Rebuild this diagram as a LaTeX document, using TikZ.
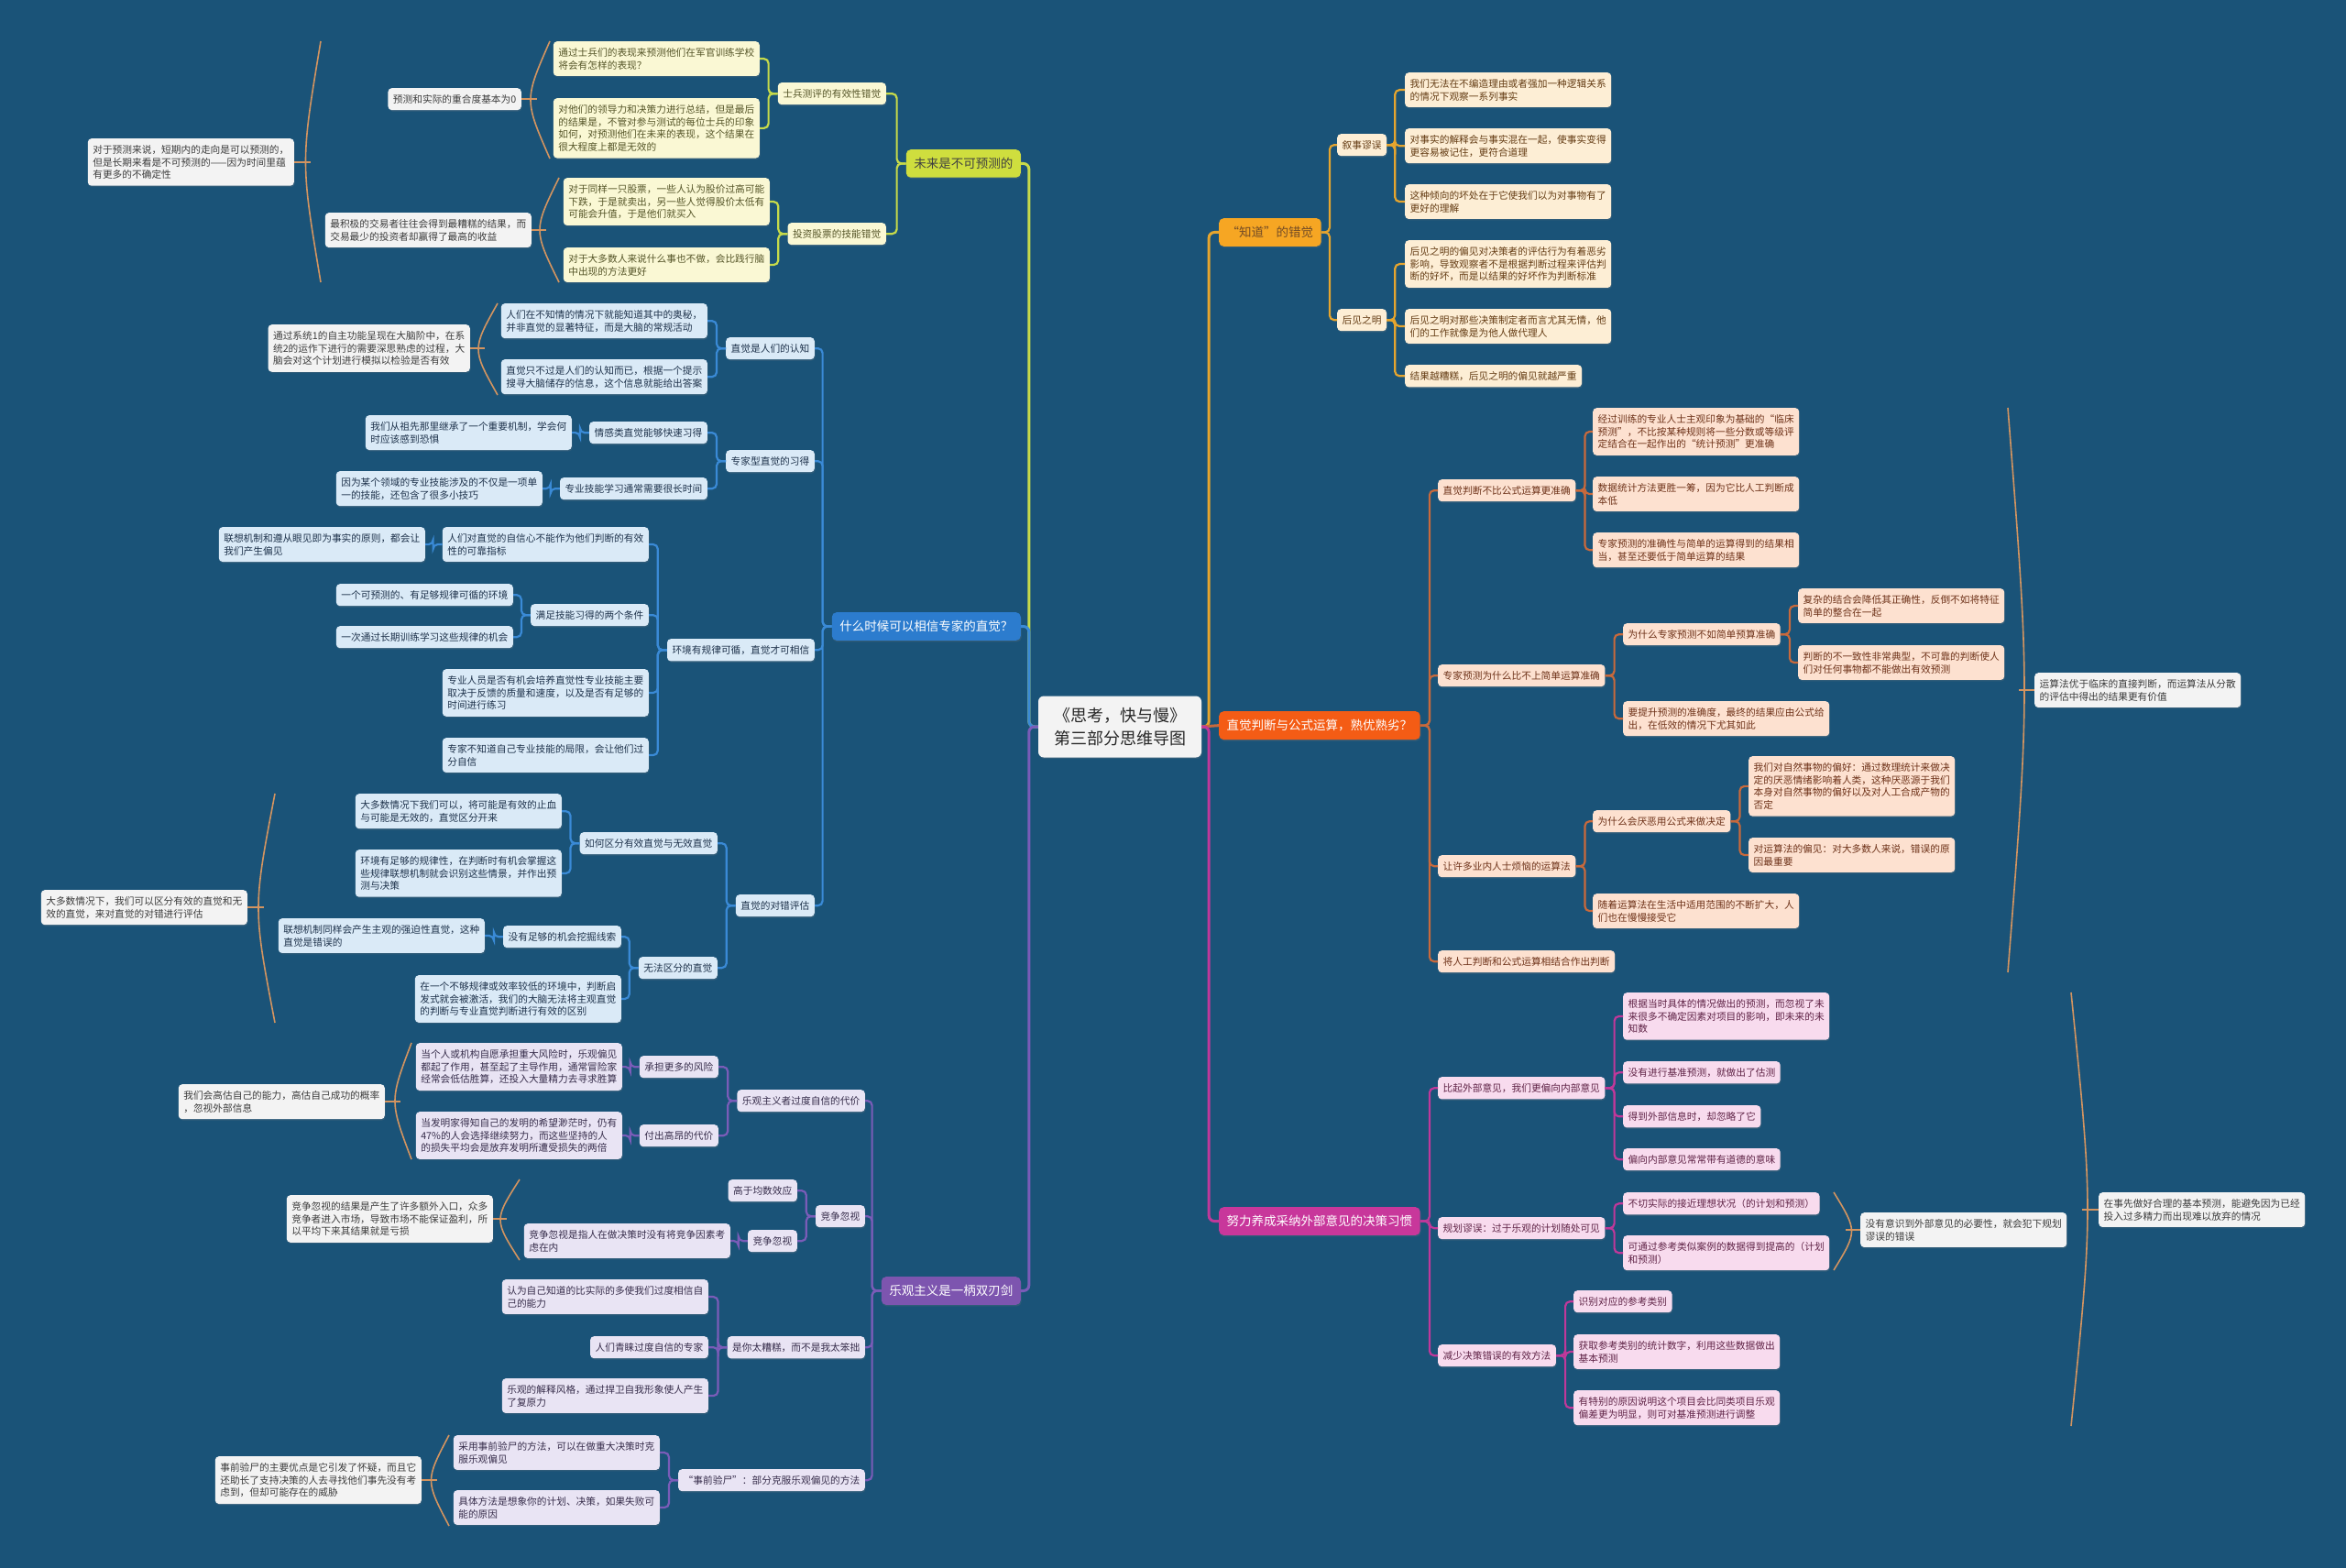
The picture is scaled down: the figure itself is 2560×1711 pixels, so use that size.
\documentclass[tikz,border=0pt]{standalone}
\usepackage{fontspec}
\setmainfont{Noto Sans CJK SC}
\usetikzlibrary{shadows}
\definecolor{bg}{RGB}{26,83,120}
\definecolor{memofill}{RGB}{243,243,243}
\definecolor{memotxt}{RGB}{60,60,60}
\definecolor{brkcol}{RGB}{211,148,96}
% yellow-green branch
\definecolor{lineY}{RGB}{198,218,74}
\definecolor{mainYf}{RGB}{207,222,62}
\definecolor{fillY}{RGB}{250,248,212}
\definecolor{txtY}{RGB}{85,85,40}
% blue branch
\definecolor{lineB}{RGB}{58,138,214}
\definecolor{mainBf}{RGB}{44,124,206}
\definecolor{fillB}{RGB}{218,234,247}
\definecolor{txtB}{RGB}{30,50,75}
% purple branch
\definecolor{lineP}{RGB}{122,92,184}
\definecolor{mainPf}{RGB}{125,85,175}
\definecolor{fillP}{RGB}{233,228,244}
\definecolor{txtP}{RGB}{55,45,75}
% orange branch
\definecolor{lineO}{RGB}{230,165,46}
\definecolor{mainOf}{RGB}{246,166,35}
\definecolor{fillO}{RGB}{253,238,213}
\definecolor{txtO}{RGB}{100,60,20}
% red branch
\definecolor{lineR}{RGB}{200,105,60}
\definecolor{mainRf}{RGB}{244,92,21}
\definecolor{fillR}{RGB}{253,225,208}
\definecolor{txtR}{RGB}{110,50,25}
% magenta branch
\definecolor{lineM}{RGB}{192,56,154}
\definecolor{mainMf}{RGB}{200,55,155}
\definecolor{fillM}{RGB}{248,219,238}
\definecolor{txtM}{RGB}{95,35,70}

\tikzset{
  box/.style={rounded corners=4pt, align=left, inner xsep=5.5pt, inner ysep=7pt,
    font=\fontsize{10.7}{13.8}\selectfont,
    drop shadow={opacity=0.22, shadow xshift=0.8pt, shadow yshift=-1.4pt}},
  bigbox/.style={rounded corners=5pt, align=left, inner xsep=8.5pt, inner ysep=9pt,
    font=\fontsize{13.5}{17}\selectfont,
    drop shadow={opacity=0.22, shadow xshift=0.8pt, shadow yshift=-1.6pt}},
  ctr/.style={rounded corners=6pt, align=center, fill=memofill, text=black!85,
    minimum width=178pt, minimum height=67pt, font=\fontsize{18}{25}\selectfont,
    drop shadow={opacity=0.22, shadow xshift=0.8pt, shadow yshift=-1.6pt}},
  lfY/.style={box, fill=fillY, text=txtY, anchor=north east},
  lfB/.style={box, fill=fillB, text=txtB, anchor=north east},
  lfP/.style={box, fill=fillP, text=txtP, anchor=north east},
  lfO/.style={box, fill=fillO, text=txtO, anchor=north west},
  lfR/.style={box, fill=fillR, text=txtR, anchor=north west},
  lfM/.style={box, fill=fillM, text=txtM, anchor=north west},
  memoL/.style={box, fill=memofill, text=memotxt, anchor=north east},
  memoR/.style={box, fill=memofill, text=memotxt, anchor=north west},
  mainY/.style={bigbox, fill=mainYf, text=black!75, anchor=north east},
  mainB/.style={bigbox, fill=mainBf, text=white, anchor=north east},
  mainP/.style={bigbox, fill=mainPf, text=white, anchor=north east},
  mainO/.style={bigbox, fill=mainOf, text=brown!60!black, anchor=north west},
  mainR/.style={bigbox, fill=mainRf, text=white, anchor=north west},
  mainM/.style={bigbox, fill=mainMf, text=white, anchor=north west},
  trunk/.style={line width=3pt, rounded corners=6pt},
  twig/.style={line width=2.2pt, rounded corners=5pt},
  brk/.style={brkcol, line width=1.6pt}
}
% brackets: name, x of ends, top y, bottom y, bulge
\newcommand{\brL}[5]{%
  \draw[brk] (#2,#3) .. controls ({#2-2*#5},{(#3+#4)/2}) .. (#2,#4);
  \coordinate (#1) at ({#2-#5},{(#3+#4)/2});}
\newcommand{\brR}[5]{%
  \draw[brk] (#2,#3) .. controls ({#2+2*#5},{(#3+#4)/2}) .. (#2,#4);
  \coordinate (#1) at ({#2+#5},{(#3+#4)/2});}

\begin{document}
\begin{tikzpicture}[x=1pt,y=-1pt]
\fill[bg] (0,0) rectangle (2560,1711);
\useasboundingbox (0,0) rectangle (2560,1711);

% centre
\node[ctr] (c) at (1222,793) {《思考，快与慢》\\第三部分思维导图};

% ---- left: 未来是不可预测的
\node[mainY] (ym) at (1114,163) {未来是不可预测的};
\node[lfY] (ys1) at (967,90) {士兵测评的有效性错觉};
\node[lfY] (ys2) at (967,243) {投资股票的技能错觉};
\node[lfY] (y1) at (829,45) {通过士兵们的表现来预测他们在军官训练学校\\将会有怎样的表现？};
\node[lfY] (y2) at (829,107) {对他们的领导力和决策力进行总结，但是最后\\的结果是，不管对参与测试的每位士兵的印象\\如何，对预测他们在未来的表现，这个结果在\\很大程度上都是无效的};
\node[lfY] (y3) at (840,194) {对于同样一只股票，一些人认为股价过高可能\\下跌，于是就卖出，另一些人觉得股价太低有\\可能会升值，于是他们就买入};
\node[lfY] (y4) at (840,270) {对于大多数人来说什么事也不做，会比践行脑\\中出现的方法更好};
\node[memoL] (n1) at (321,151) {对于预测来说，短期内的走向是可以预测的，\\但是长期来看是不可预测的——因为时间里蕴\\有更多的不确定性};
\node[memoL] (n2) at (569,96) {预测和实际的重合度基本为0};
\node[memoL] (n3) at (580,232) {最积极的交易者往往会得到最糟糕的结果，而\\交易最少的投资者却赢得了最高的收益};

% ---- left: 什么时候可以相信专家的直觉？
\node[mainB] (bm) at (1114,668) {什么时候可以相信专家的直觉？};
\node[lfB] (bs1) at (889,368) {直觉是人们的认知};
\node[lfB] (bs2) at (889,491) {专家型直觉的习得};
\node[lfB] (bs3) at (889,697) {环境有规律可循，直觉才可相信};
\node[lfB] (bs4) at (889,976) {直觉的对错评估};
\node[lfB] (b11) at (772,331) {人们在不知情的情况下就能知道其中的奥秘，\\并非直觉的显著特征，而是大脑的常规活动};
\node[lfB] (b12) at (772,392) {直觉只不过是人们的认知而已，根据一个提示\\搜寻大脑储存的信息，这个信息就能给出答案};
\node[memoL] (n4) at (513,354) {通过系统1的自主功能呈现在大脑阶中，在系\\统2的运作下进行的需要深思熟虑的过程，大\\脑会对这个计划进行模拟以检验是否有效};
\node[lfB] (b21) at (772,460) {情感类直觉能够快速习得};
\node[lfB] (b211) at (624,453) {我们从祖先那里继承了一个重要机制，学会何\\时应该感到恐惧};
\node[lfB] (b22) at (772,521) {专业技能学习通常需要很长时间};
\node[lfB] (b221) at (592,514) {因为某个领域的专业技能涉及的不仅是一项单\\一的技能，还包含了很多小技巧};
\node[lfB] (b31) at (708,575) {人们对直觉的自信心不能作为他们判断的有效\\性的可靠指标};
\node[lfB] (b311) at (464,575) {联想机制和遵从眼见即为事实的原则，都会让\\我们产生偏见};
\node[lfB] (b32) at (708,659) {满足技能习得的两个条件};
\node[lfB] (b321) at (560,637) {一个可预测的、有足够规律可循的环境};
\node[lfB] (b322) at (560,683) {一次通过长期训练学习这些规律的机会};
\node[lfB] (b33) at (708,730) {专业人员是否有机会培养直觉性专业技能主要\\取决于反馈的质量和速度，以及是否有足够的\\时间进行练习};
\node[lfB] (b34) at (708,805) {专家不知道自己专业技能的局限，会让他们过\\分自信};
\node[lfB] (b41) at (783,908) {如何区分有效直觉与无效直觉};
\node[lfB] (b411) at (613,866) {大多数情况下我们可以，将可能是有效的止血\\与可能是无效的，直觉区分开来};
\node[lfB] (b412) at (613,927) {环境有足够的规律性，在判断时有机会掌握这\\些规律联想机制就会识别这些情景，并作出预\\测与决策};
\node[lfB] (b42) at (783,1044) {无法区分的直觉};
\node[lfB] (b421) at (678,1010) {没有足够的机会挖掘线索};
\node[lfB] (b4211) at (529,1002) {联想机制同样会产生主观的强迫性直觉，这种\\直觉是错误的};
\node[lfB] (b422) at (678,1064) {在一个不够规律或效率较低的环境中，判断启\\发式就会被激活，我们的大脑无法将主观直觉\\的判断与专业直觉判断进行有效的区别};
\node[memoL] (n5) at (270,971) {大多数情况下，我们可以区分有效的直觉和无\\效的直觉，来对直觉的对错进行评估};

% ---- left: 乐观主义是一柄双刃剑
\node[mainP] (pm) at (1114,1393) {乐观主义是一柄双刃剑};
\node[lfP] (ps1) at (944,1189) {乐观主义者过度自信的代价};
\node[lfP] (ps2) at (944,1315) {竞争忽视};
\node[lfP] (ps3) at (944,1458) {是你太糟糕，而不是我太笨拙};
\node[lfP] (ps4) at (944,1603) {“事前验尸”：部分克服乐观偏见的方法};
\node[lfP] (p11) at (784,1152) {承担更多的风险};
\node[lfP] (p111) at (679,1138) {当个人或机构自愿承担重大风险时，乐观偏见\\都起了作用，甚至起了主导作用，通常冒险家\\经常会低估胜算，还投入大量精力去寻求胜算};
\node[lfP] (p12) at (784,1227) {付出高昂的代价};
\node[lfP] (p121) at (679,1213) {当发明家得知自己的发明的希望渺茫时，仍有\\47\%的人会选择继续努力，而这些坚持的人\\的损失平均会是放弃发明所遭受损失的两倍};
\node[memoL] (n6) at (420,1183) {我们会高估自己的能力，高估自己成功的概率\\，忽视外部信息};
\node[lfP] (p21) at (870,1287) {高于均数效应};
\node[lfP] (p22) at (870,1342) {竞争忽视};
\node[lfP] (p221) at (797,1335) {竞争忽视是指人在做决策时没有将竞争因素考\\虑在内};
\node[memoL] (n7) at (538,1304) {竞争忽视的结果是产生了许多额外入口，众多\\竞争者进入市场，导致市场不能保证盈利，所\\以平均下来其结果就是亏损};
\node[lfP] (p31) at (773,1396) {认为自己知道的比实际的多使我们过度相信自\\己的能力};
\node[lfP] (p32) at (773,1458) {人们青睐过度自信的专家};
\node[lfP] (p33) at (773,1504) {乐观的解释风格，通过捍卫自我形象使人产生\\了复原力};
\node[lfP] (p41) at (720,1566) {采用事前验尸的方法，可以在做重大决策时克\\服乐观偏见};
\node[lfP] (p42) at (720,1626) {具体方法是想象你的计划、决策，如果失败可\\能的原因};
\node[memoL] (n8) at (460,1589) {事前验尸的主要优点是它引发了怀疑，而且它\\还助长了支持决策的人去寻找他们事先没有考\\虑到，但却可能存在的威胁};

% ---- right: “知道”的错觉
\node[mainO] (om) at (1330,238) {“知道”的错觉};
\node[lfO] (os1) at (1459,146) {叙事谬误};
\node[lfO] (os2) at (1459,337) {后见之明};
\node[lfO] (o11) at (1533,79) {我们无法在不编造理由或者强加一种逻辑关系\\的情况下观察一系列事实};
\node[lfO] (o12) at (1533,140) {对事实的解释会与事实混在一起，使事实变得\\更容易被记住，更符合道理};
\node[lfO] (o13) at (1533,201) {这种倾向的坏处在于它使我们以为对事物有了\\更好的理解};
\node[lfO] (o21) at (1533,262) {后见之明的偏见对决策者的评估行为有着恶劣\\影响，导致观察者不是根据判断过程来评估判\\断的好坏，而是以结果的好坏作为判断标准};
\node[lfO] (o22) at (1533,337) {后见之明对那些决策制定者而言尤其无情，他\\们的工作就像是为他人做代理人};
\node[lfO] (o23) at (1533,398) {结果越糟糕，后见之明的偏见就越严重};

% ---- right: 直觉判断与公式运算
\node[mainR] (rm) at (1330,776) {直觉判断与公式运算，熟优熟劣？};
\node[lfR] (rs1) at (1569,523) {直觉判断不比公式运算更准确};
\node[lfR] (rs2) at (1569,725) {专家预测为什么比不上简单运算准确};
\node[lfR] (rs3) at (1569,933) {让许多业内人士烦恼的运算法};
\node[lfR] (rs4) at (1569,1037) {将人工判断和公式运算相结合作出判断};
\node[lfR] (r11) at (1738,445) {经过训练的专业人士主观印象为基础的“临床\\预测”，不比按某种规则将一些分数或等级评\\定结合在一起作出的“统计预测”更准确};
\node[lfR] (r12) at (1738,520) {数据统计方法更胜一筹，因为它比人工判断成\\本低};
\node[lfR] (r13) at (1738,581) {专家预测的准确性与简单的运算得到的结果相\\当，甚至还要低于简单运算的结果};
\node[lfR] (r21) at (1771,680) {为什么专家预测不如简单预算准确};
\node[lfR] (r211) at (1962,642) {复杂的结合会降低其正确性，反倒不如将特征\\简单的整合在一起};
\node[lfR] (r212) at (1962,704) {判断的不一致性非常典型，不可靠的判断使人\\们对任何事物都不能做出有效预测};
\node[lfR] (r22) at (1771,765) {要提升预测的准确度，最终的结果应由公式给\\出，在低效的情况下尤其如此};
\node[lfR] (r31) at (1738,884) {为什么会厌恶用公式来做决定};
\node[lfR] (r311) at (1908,825) {我们对自然事物的偏好：通过数理统计来做决\\定的厌恶情绪影响着人类，这种厌恶源于我们\\本身对自然事物的偏好以及对人工合成产物的\\否定};
\node[lfR] (r312) at (1908,914) {对运算法的偏见：对大多数人来说，错误的原\\因最重要};
\node[lfR] (r32) at (1738,975) {随着运算法在生活中适用范围的不断扩大，人\\们也在慢慢接受它};
\node[memoR] (n9) at (2220,734) {运算法优于临床的直接判断，而运算法从分散\\的评估中得出的结果更有价值};

% ---- right: 努力养成采纳外部意见的决策习惯
\node[mainM] (gm) at (1330,1317) {努力养成采纳外部意见的决策习惯};
\node[lfM] (gs1) at (1569,1175) {比起外部意见，我们更偏向内部意见};
\node[lfM] (gs2) at (1569,1328) {规划谬误：过于乐观的计划随处可见};
\node[lfM] (gs3) at (1569,1467) {减少决策错误的有效方法};
\node[lfM] (g11) at (1771,1083) {根据当时具体的情况做出的预测，而忽视了未\\来很多不确定因素对项目的影响，即未来的未\\知数};
\node[lfM] (g12) at (1771,1158) {没有进行基准预测，就做出了估测};
\node[lfM] (g13) at (1771,1206) {得到外部信息时，却忽略了它};
\node[lfM] (g14) at (1771,1253) {偏向内部意见常常带有道德的意味};
\node[lfM] (g21) at (1771,1301) {不切实际的接近理想状况（的计划和预测）};
\node[lfM] (g22) at (1771,1348) {可通过参考类似案例的数据得到提高的（计划\\和预测）};
\node[memoR] (n10) at (2030,1323) {没有意识到外部意见的必要性，就会犯下规划\\谬误的错误};
\node[lfM] (g31) at (1717,1408) {识别对应的参考类别};
\node[lfM] (g32) at (1717,1456) {获取参考类别的统计数字，利用这些数据做出\\基本预测};
\node[lfM] (g33) at (1717,1517) {有特别的原因说明这个项目会比同类项目乐观\\偏差更为明显，则可对基准预测进行调整};
\node[memoR] (n11) at (2290,1301) {在事先做好合理的基本预测，能避免因为已经\\投入过多精力而出现难以放弃的情况};

% ---- connectors
\draw[trunk,lineY] (c.west) -- +(-10,0) |- (ym.east);
\draw[trunk,lineB] (c.west) -- +(-10,0) |- (bm.east);
\draw[trunk,lineP] (c.west) -- +(-10,0) |- (pm.east);
\draw[trunk,lineO] (c.east) -- +(8,0) |- (om.west);
\draw[trunk,lineR] (c.east) -- (rm.west);
\draw[trunk,lineM] (c.east) -- +(8,0) |- (gm.west);

\foreach \a/\b in {ym/ys1,ym/ys2,ys1/y1,ys1/y2,ys2/y3,ys2/y4}
  \draw[twig,lineY] (\a.west) -- +(-10,0) |- (\b.east);
\foreach \a/\b in {bm/bs1,bm/bs2,bm/bs3,bm/bs4,bs1/b11,bs1/b12,bs2/b21,bs2/b22,
    b21/b211,b22/b221,bs3/b31,bs3/b32,bs3/b33,bs3/b34,b31/b311,b32/b321,b32/b322,
    bs4/b41,bs4/b42,b41/b411,b41/b412,b42/b421,b42/b422,b421/b4211}
  \draw[twig,lineB] (\a.west) -- +(-10,0) |- (\b.east);
\foreach \a/\b in {pm/ps1,pm/ps2,pm/ps3,pm/ps4,ps1/p11,ps1/p12,p11/p111,p12/p121,
    ps2/p21,ps2/p22,p22/p221,ps3/p31,ps3/p32,ps3/p33,ps4/p41,ps4/p42}
  \draw[twig,lineP] (\a.west) -- +(-10,0) |- (\b.east);
\foreach \a/\b in {om/os1,om/os2,os1/o11,os1/o12,os1/o13,os2/o21,os2/o22,os2/o23}
  \draw[twig,lineO] (\a.east) -- +(9,0) |- (\b.west);
\foreach \a/\b in {rm/rs1,rm/rs2,rm/rs3,rm/rs4,rs1/r11,rs1/r12,rs1/r13,rs2/r21,rs2/r22,
    r21/r211,r21/r212,rs3/r31,rs3/r32,r31/r311,r31/r312}
  \draw[twig,lineR] (\a.east) -- +(10,0) |- (\b.west);
\foreach \a/\b in {gm/gs1,gm/gs2,gm/gs3,gs1/g11,gs1/g12,gs1/g13,gs1/g14,gs2/g21,gs2/g22,
    gs3/g31,gs3/g32,gs3/g33}
  \draw[twig,lineM] (\a.east) -- +(10,0) |- (\b.west);

% brackets for the notes
\brL{k1}{350}{45}{308}{11}
\brL{k2}{600}{45}{173}{14}
\brL{k3}{610}{194}{308}{14}
\brL{k4}{543}{331}{431}{14}
\brL{k5}{300}{866}{1116}{12}
\brL{k6}{449}{1138}{1265}{12}
\brL{k7}{567}{1287}{1375}{14}
\brL{k8}{490}{1566}{1665}{13}
\brR{k9}{2191}{445}{1061}{12}
\brR{k10}{2001}{1301}{1386}{13}
\brR{k11}{2260}{1083}{1556}{12}
\foreach \n/\k in {n1/k1,n2/k2,n3/k3,n4/k4,n5/k5,n6/k6,n7/k7,n8/k8}
  \draw[brk] (\n.east) -- (\n.east -| \k);
\foreach \n/\k in {n9/k9,n10/k10,n11/k11}
  \draw[brk] (\n.west) -- (\n.west -| \k);
\end{tikzpicture}
\end{document}
